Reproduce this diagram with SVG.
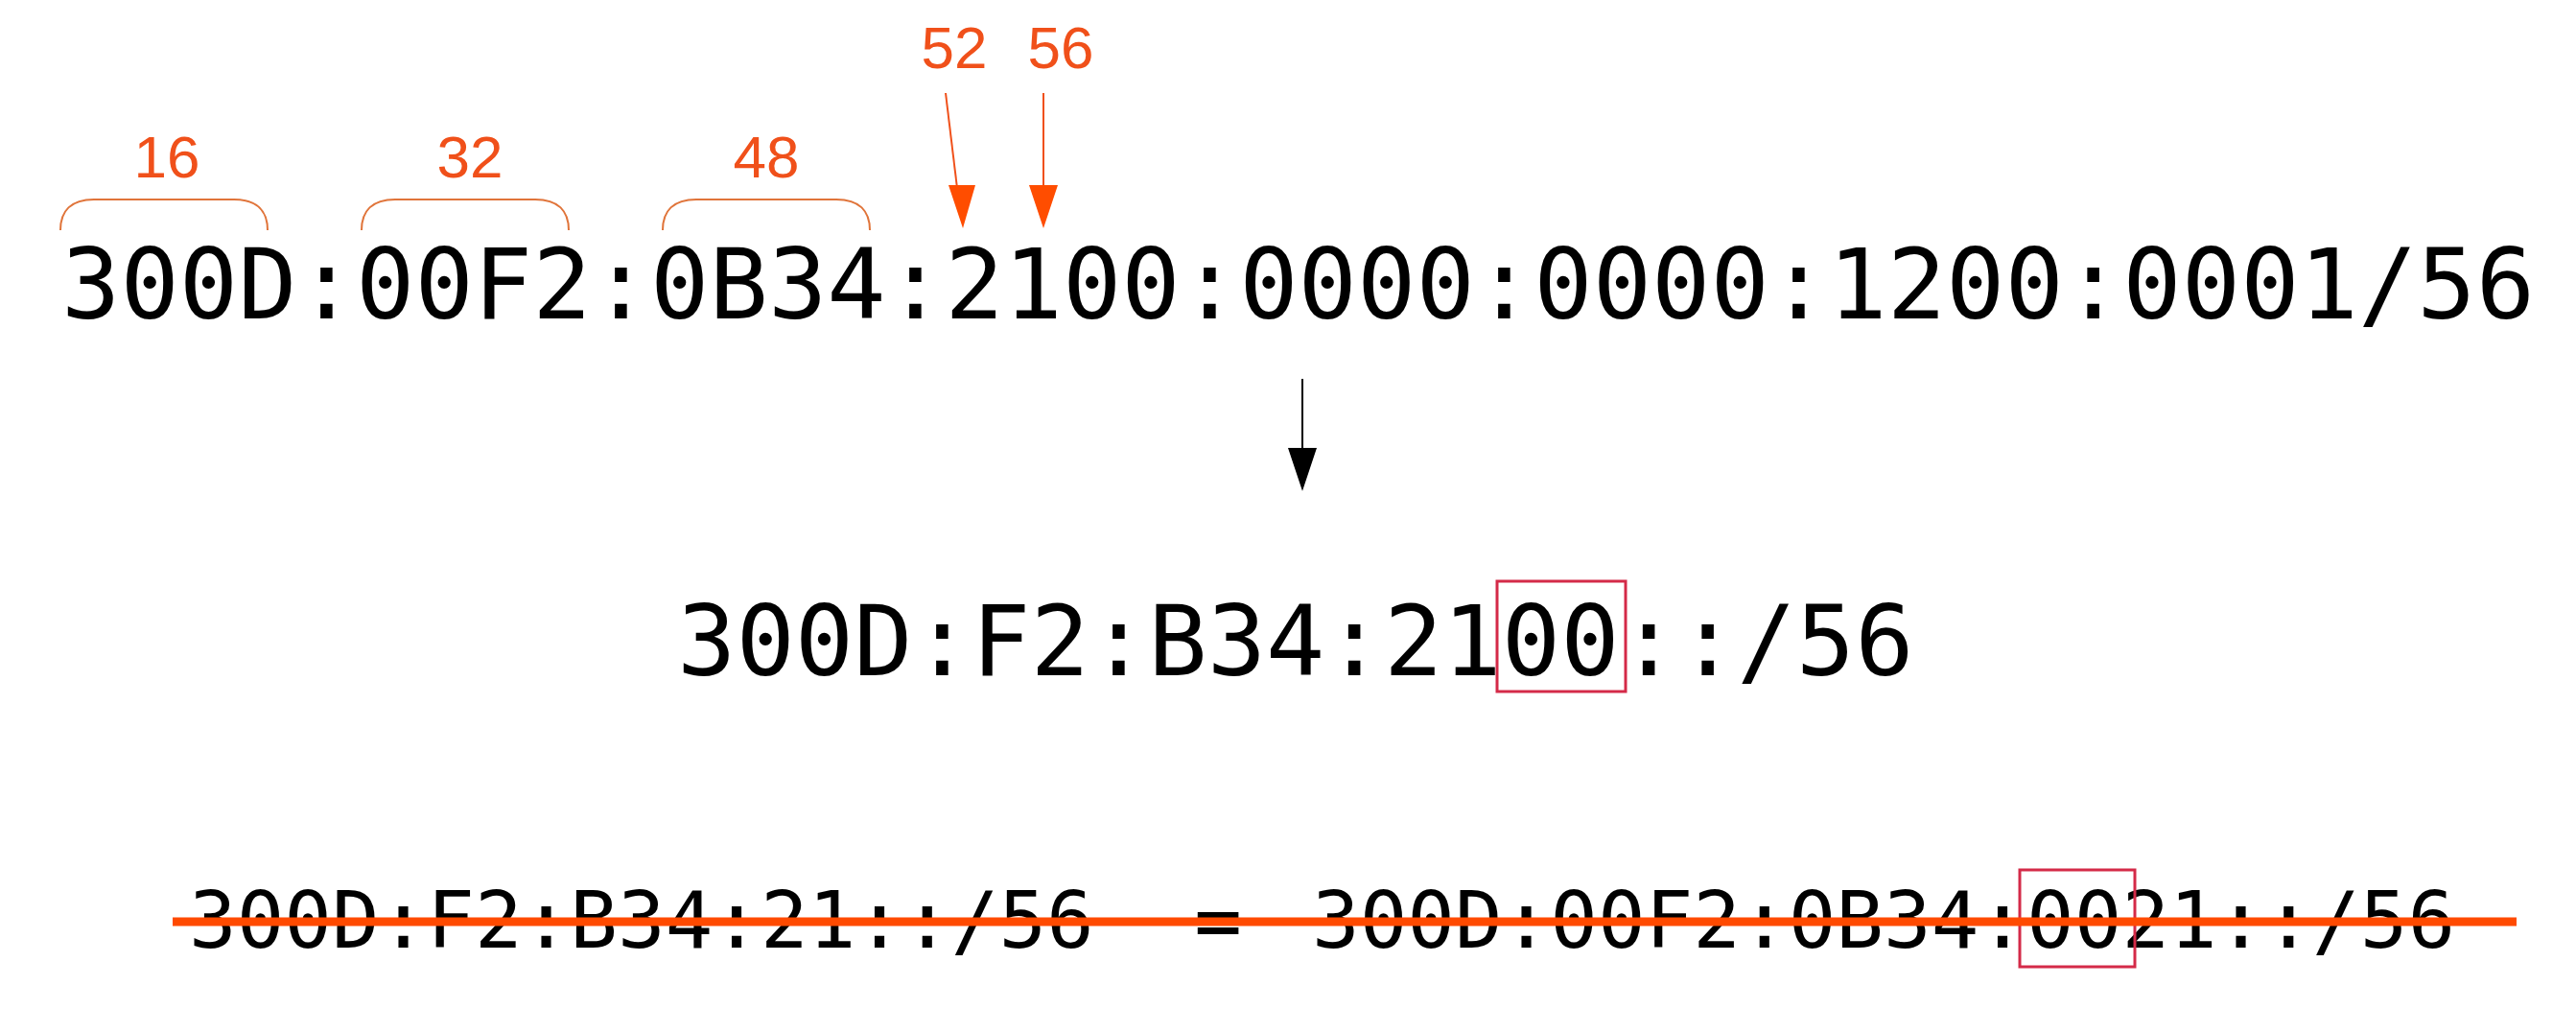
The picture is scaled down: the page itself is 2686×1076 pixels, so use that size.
<svg xmlns="http://www.w3.org/2000/svg" width="2686" height="1076" viewBox="0 0 2686 1076">
<style>
.mono{font-family:"DejaVu Sans Mono","Liberation Mono",monospace;fill:#000}
.big{font-size:102px}
.small{font-size:82.5px}
.num{font-family:"Liberation Sans",Arial,sans-serif;font-size:62px;fill:#f0501a;text-anchor:middle}
.brace{fill:none;stroke:#e0743a;stroke-width:2}
.oline{stroke:#f0501a;stroke-width:2;fill:none}
.ohead{fill:#ff4d00}
.box{fill:none;stroke:#d42a48;stroke-width:3}
</style>
<rect width="2686" height="1076" fill="#ffffff"/>
<g id="top-address">
<text class="mono big" x="64" y="332">300D:00F2:0B34:2100:0000:0000:1200:0001/56</text>
</g>
<g id="label-16">
<path class="brace" d="M63 240 C63 220 74 208 98 208 L244 208 C268 208 279 220 279 240"/>
<text class="num" x="174" y="185">16</text>
</g>
<g id="label-32">
<path class="brace" d="M377 240 C377 220 388 208 412 208 L558 208 C582 208 593 220 593 240"/>
<text class="num" x="490" y="185">32</text>
</g>
<g id="label-48">
<path class="brace" d="M691 240 C691 220 702 208 726 208 L872 208 C896 208 907 220 907 240"/>
<text class="num" x="799" y="185">48</text>
</g>
<g id="label-52">
<text class="num" x="995" y="71">52</text>
</g>
<g id="label-56">
<text class="num" x="1106" y="71">56</text>
</g>
<g id="middle-address">
<text class="mono big" x="706" y="704">300D:F2:B34:2100::/56</text>
<rect class="box" x="1561" y="606" width="134" height="115"/>
</g>
<g id="bottom-equation">
<text class="mono small" x="197" y="988">300D:F2:B34:21::/56</text>
<text class="mono small" x="1270" y="988" text-anchor="middle">=</text>
<text class="mono small" x="1368" y="988">300D:00F2:0B34:0021::/56</text>
<rect class="box" x="2106" y="907" width="120" height="101"/>
<line x1="180" y1="961" x2="2624" y2="961" stroke="#ff4a00" stroke-width="9"/>
</g>
<g id="connectors">
<line class="oline" x1="986" y1="97" x2="998" y2="196"/>
<polygon class="ohead" points="989,193 1017,193 1004,238"/>
<line class="oline" x1="1088" y1="97" x2="1088" y2="196"/>
<polygon class="ohead" points="1073,193 1103,193 1088,238"/>
<line x1="1358" y1="395" x2="1358" y2="470" stroke="#000" stroke-width="2"/>
<polygon points="1343,467 1373,467 1358,512" fill="#000"/>
</g>
</svg>
